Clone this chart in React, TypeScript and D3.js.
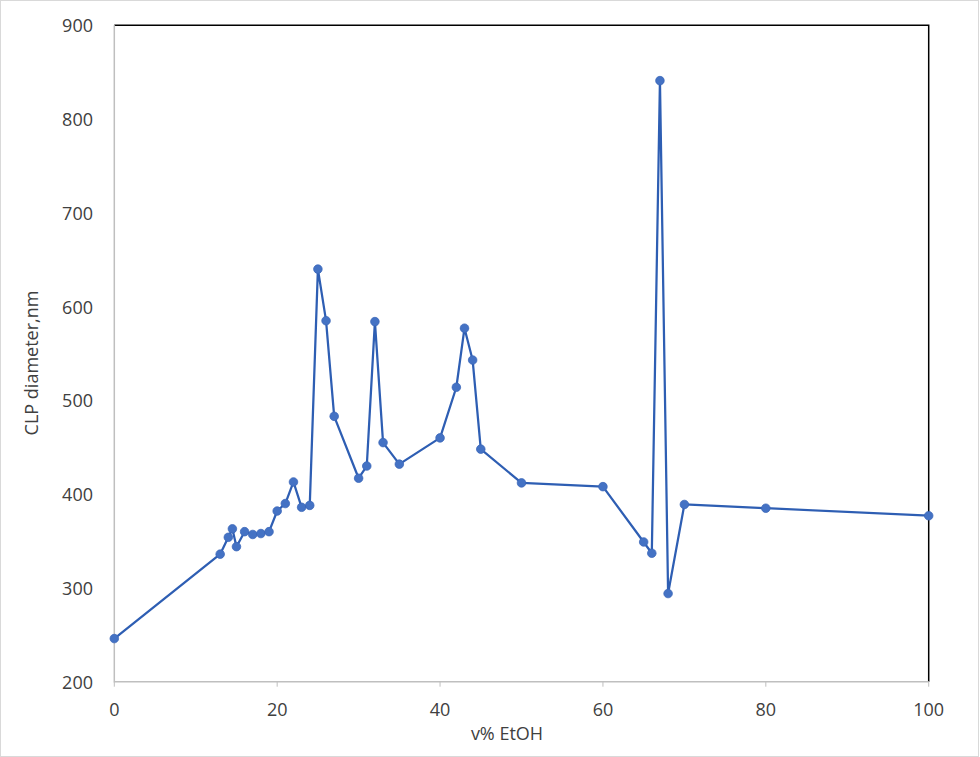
// @ts-nocheck
import { useEffect, useRef } from 'react';
import * as d3 from 'd3';

// v% EtOH
const etohPct = [0, 13, 14, 14.5, 15, 16, 17, 18, 19, 20, 21, 22, 23, 24, 25, 26, 27, 30, 31, 32, 33, 35, 40, 42, 43, 44, 45, 50, 60, 65, 66, 67, 68, 70, 80, 100];
// CLP diameter, nm
const diameterNm = [246, 336, 354, 363, 344, 360, 357, 358, 360, 382, 390, 413, 386, 388, 640, 585, 483, 417, 430, 584, 455, 432, 460, 514, 577, 543, 448, 412, 408, 349, 337, 841, 294, 389, 385, 377];

const xTicks = [0, 20, 40, 60, 80, 100];
const yTicks = [200, 300, 400, 500, 600, 700, 800, 900];

const W = 980;
const H = 757;

export default function App() {
  const svgRef = useRef<SVGSVGElement>(null);

  useEffect(() => {
    document.body.style.margin = '0';
    if (!svgRef.current) return;
    const svg = d3.select(svgRef.current);
    svg.selectAll('*').remove();

    const left = 114.3, right = 928.7, top = 25.3, bottom = 681.7;
    const x = d3.scaleLinear().domain([0, 100]).range([left, right]);
    const y = d3.scaleLinear().domain([200, 900]).range([bottom, top]);
    const font = '"Open Sans", "Noto Sans", sans-serif';
    const textColor = '#404040';

    // outer chart border
    svg.append('rect')
      .attr('x', 0.5).attr('y', 0.5)
      .attr('width', W - 2).attr('height', H - 1)
      .attr('fill', '#fff')
      .attr('stroke', '#d9d9d9');

    // top and right frame lines (black)
    svg.append('path')
      .attr('d', `M${left},${top}H${right}V${bottom}`)
      .attr('fill', 'none')
      .attr('stroke', '#000')
      .attr('stroke-width', 1.5);

    // left and bottom axes (light gray)
    svg.append('path')
      .attr('d', `M${left},${top}V${bottom}H${right}`)
      .attr('fill', 'none')
      .attr('stroke', '#bfbfbf')
      .attr('stroke-width', 1.5);

    // x ticks + labels
    xTicks.forEach((t) => {
      svg.append('line')
        .attr('x1', x(t)).attr('x2', x(t))
        .attr('y1', bottom).attr('y2', bottom + 5)
        .attr('stroke', '#bfbfbf');
      svg.append('text')
        .attr('x', x(t)).attr('y', bottom + 27)
        .attr('text-anchor', 'middle')
        .attr('dominant-baseline', 'central')
        .attr('fill', textColor)
        .attr('font-family', font)
        .attr('font-size', '18px')
        .text(t);
    });

    // y labels
    yTicks.forEach((t) => {
      svg.append('text')
        .attr('x', 93).attr('y', y(t))
        .attr('text-anchor', 'end')
        .attr('dominant-baseline', 'central')
        .attr('fill', textColor)
        .attr('font-family', font)
        .attr('font-size', '18px')
        .text(t);
    });

    // axis titles
    svg.append('text')
      .attr('x', 507).attr('y', 733)
      .attr('text-anchor', 'middle')
      .attr('dominant-baseline', 'central')
      .attr('fill', textColor)
      .attr('font-family', font)
      .attr('font-size', '18px')
      .text('v% EtOH');

    svg.append('text')
      .attr('transform', 'translate(31,363) rotate(-90)')
      .attr('text-anchor', 'middle')
      .attr('dominant-baseline', 'central')
      .attr('fill', textColor)
      .attr('font-family', font)
      .attr('font-size', '18px')
      .text('CLP diameter,nm');

    const points = etohPct.map((v, i) => [x(v), y(diameterNm[i])]);

    svg.append('path')
      .datum(points)
      .attr('d', d3.line())
      .attr('fill', 'none')
      .attr('stroke', '#2E5EB3')
      .attr('stroke-width', 2.25)
      .attr('stroke-linejoin', 'round');

    svg.append('g')
      .selectAll('circle')
      .data(points)
      .join('circle')
      .attr('cx', (d) => d[0])
      .attr('cy', (d) => d[1])
      .attr('r', 4.3)
      .attr('fill', '#4472C4')
      .attr('stroke', '#3A66B8')
      .attr('stroke-width', 0.75);
  }, []);

  return <svg ref={svgRef} width={W} height={H} style={{ display: 'block' }} />;
}
